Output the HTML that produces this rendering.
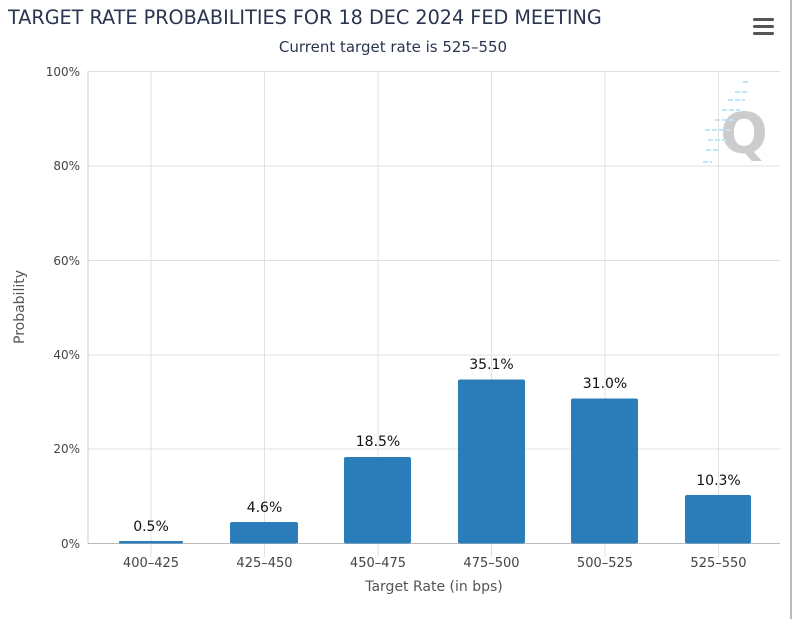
<!DOCTYPE html>
<html><head><style>
body{margin:0;background:#fff;width:801px;height:619px;overflow:hidden;font-family:"DejaVu Sans","Liberation Sans",sans-serif;}
</style></head><body>
<svg width="801" height="619" xmlns="http://www.w3.org/2000/svg" font-family="DejaVu Sans, Liberation Sans, sans-serif">
<rect width="801" height="619" fill="#fff"/>
<line x1="791" y1="0" x2="791" y2="619" stroke="#bbb" stroke-width="2"/>
<text x="8" y="24" font-size="19.2" fill="#2a3550">TARGET RATE PROBABILITIES FOR 18 DEC 2024 FED MEETING</text>
<text x="393" y="52" font-size="15" fill="#2a3550" text-anchor="middle">Current target rate is 525–550</text>
<g fill="#555"><rect x="753" y="18" width="21" height="3" rx="1.5"/><rect x="753" y="25" width="21" height="3" rx="1.5"/><rect x="753" y="32" width="21" height="3" rx="1.5"/></g>
<g stroke="#e0e0e0" stroke-width="1">
<line x1="88" y1="71.5" x2="780" y2="71.5"/><line x1="88" y1="166" x2="780" y2="166"/><line x1="88" y1="260.5" x2="780" y2="260.5"/><line x1="88" y1="355" x2="780" y2="355"/><line x1="88" y1="449" x2="780" y2="449"/>
<line x1="151" y1="71" x2="151" y2="557"/><line x1="264.5" y1="71" x2="264.5" y2="557"/><line x1="378" y1="71" x2="378" y2="557"/><line x1="491.5" y1="71" x2="491.5" y2="557"/><line x1="605" y1="71" x2="605" y2="557"/><line x1="718.5" y1="71" x2="718.5" y2="557"/>
</g>
<line x1="88" y1="71" x2="88" y2="543" stroke="#ccc"/>
<line x1="88" y1="543.5" x2="780" y2="543.5" stroke="#bbb"/>
<text x="744" y="153" font-size="56" font-weight="bold" fill="#ccc" text-anchor="middle">Q</text>
<g stroke="#bfe6fa" stroke-width="2" stroke-dasharray="5 2">
<line x1="743" y1="82" x2="750" y2="82"/><line x1="735" y1="92" x2="748" y2="92"/><line x1="728" y1="100" x2="745" y2="100"/><line x1="722" y1="110" x2="740" y2="110"/><line x1="715" y1="120" x2="735" y2="120"/><line x1="705" y1="130" x2="730" y2="130"/><line x1="708" y1="140" x2="726" y2="140"/><line x1="706" y1="150" x2="720" y2="150"/><line x1="703" y1="162" x2="712" y2="162"/>
</g>
<g font-size="12" fill="#444" text-anchor="end">
<text x="80" y="76">100%</text><text x="80" y="170">80%</text><text x="80" y="265">60%</text><text x="80" y="359">40%</text><text x="80" y="453">20%</text><text x="80" y="548">0%</text>
</g>
<text transform="translate(24,307) rotate(-90)" font-size="14" fill="#555" text-anchor="middle">Probability</text>
<g fill="#2a7db8">
<rect x="119" y="541" width="64" height="2.5" rx="1"/>
<rect x="230" y="522" width="68" height="21.5" rx="2"/>
<rect x="344" y="457" width="67" height="86.5" rx="2"/>
<rect x="458" y="379.5" width="67" height="164" rx="2"/>
<rect x="571" y="398.5" width="67" height="145" rx="2"/>
<rect x="685" y="495" width="66" height="48.5" rx="2"/>
</g>
<g font-size="14" fill="#111" text-anchor="middle">
<text x="151" y="531">0.5%</text><text x="264.5" y="512">4.6%</text><text x="378" y="446">18.5%</text><text x="491.5" y="369">35.1%</text><text x="605" y="388">31.0%</text><text x="718.5" y="485">10.3%</text>
</g>
<g font-size="13" fill="#444" text-anchor="middle">
<text x="151" y="567">400–425</text><text x="264.5" y="567">425–450</text><text x="378" y="567">450–475</text><text x="491.5" y="567">475–500</text><text x="605" y="567">500–525</text><text x="718.5" y="567">525–550</text>
</g>
<text x="434" y="591" font-size="14" fill="#555" text-anchor="middle">Target Rate (in bps)</text>
</svg>
</body></html>
